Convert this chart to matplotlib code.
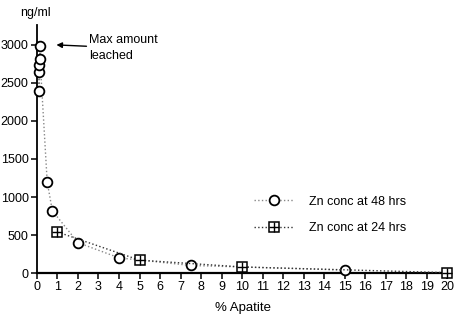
import matplotlib.pyplot as plt

plt.rcParams['font.family'] = ['Liberation Sans', 'DejaVu Sans']

# Zn concentration vs % apatite
apatite_48 = [0.1, 0.1, 0.12, 0.15, 0.15, 0.5, 0.75, 2, 4, 7.5, 15]
zn_48 = [2400, 2650, 2730, 2820, 2980, 1200, 820, 400, 200, 100, 40]
apatite_24 = [1, 5, 10, 20]
zn_24 = [540, 170, 80, 5]

x_ticks = list(range(0, 21))
y_ticks = [0, 500, 1000, 1500, 2000, 2500, 3000]

fig = plt.figure(figsize=(4.56, 3.22), dpi=100)
ax = fig.add_axes([0.081, 0.152, 0.902, 0.77])

order = sorted(range(len(apatite_48)), key=lambda i: (apatite_48[i], -zn_48[i]))
xs = [apatite_48[i] for i in order]
ys = [zn_48[i] for i in order]
ax.plot(xs, ys, linestyle=':', color='#888888', linewidth=1.0,
        marker='o', markersize=7, markerfacecolor='white',
        markeredgecolor='black', markeredgewidth=1.3,
        label='Zn conc at 48 hrs', clip_on=False, zorder=3)

# squares with a cross inside
sq, = ax.plot(apatite_24, zn_24, linestyle=':', color='#333333', linewidth=1.0,
              marker='s', markersize=6.5, markerfacecolor='white',
              markeredgecolor='black', markeredgewidth=1.1,
              clip_on=False, zorder=3)
cr, = ax.plot(apatite_24, zn_24, linestyle='none', marker='+', markersize=6.5,
              markeredgecolor='black', markeredgewidth=1.0, clip_on=False, zorder=4)

ax.set_xlim(0, 20.05)
ax.set_ylim(0, 3260)
ax.set_xticks(x_ticks)
ax.set_yticks(y_ticks)
ax.spines['top'].set_visible(False)
ax.spines['right'].set_visible(False)
ax.spines['left'].set_linewidth(1.3)
ax.spines['bottom'].set_linewidth(1.6)
ax.tick_params(direction='out', length=4, width=1.1, labelsize=9, pad=2)

ax.set_xlabel('% Apatite', fontsize=9.5, labelpad=6)
ax.text(-0.05, 3420, 'ng/ml', fontsize=9, ha='center', va='center', clip_on=False)

ax.annotate('Max amount\nleached', xy=(0.95, 3000), xytext=(2.55, 2960),
            fontsize=9, va='center', ha='left', linespacing=1.5,
            arrowprops=dict(arrowstyle='-|>', color='black', lw=1, mutation_scale=8,
                            shrinkA=0, shrinkB=0))

handles, labels = ax.get_legend_handles_labels()
handles.append((sq, cr))
labels.append('Zn conc at 24 hrs')
ax.legend(handles, labels, loc='center left', bbox_to_anchor=(0.5, 0.235), frameon=False,
          fontsize=9, handlelength=3.2, labelspacing=1.15, handletextpad=1.2)

fig.savefig('out.png', dpi=100)
